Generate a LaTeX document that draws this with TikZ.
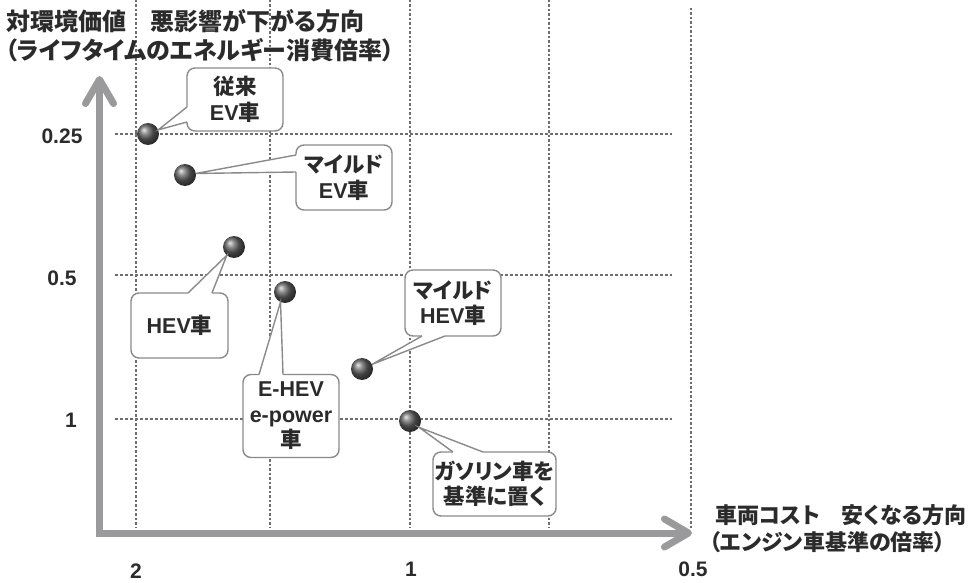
\documentclass[tikz,border=0pt]{standalone}
\usepackage{fontspec}
\setmainfont{Liberation Sans}
\newfontfamily\jp{Noto Sans CJK JP}[RawFeature=+palt]
\usetikzlibrary{calc,arrows.meta}
\definecolor{axisgray}{HTML}{9A9A9C}
\definecolor{gridgray}{HTML}{6E6E6E}
\definecolor{boxgray}{HTML}{8A8A8A}
\definecolor{txt}{HTML}{2B2B2B}
\newcommand\en[1]{{\fontspec{Liberation Sans}\bfseries #1}}
\begin{document}
\begin{tikzpicture}[x=1pt,y=-1pt,
  hgrid/.style={gridgray, line width=1.1pt, dash pattern=on 3pt off 2pt},
  vgrid/.style={gridgray, line width=1.1pt, dash pattern=on 2.5pt off 2pt},
  axisarrow/.style={axisgray, line width=7pt, -{Straight Barb[length=24pt,width=28pt,round]}},
  cbox/.style={draw=boxgray, line width=1.4pt, fill=white, rounded corners=8pt, inner sep=0pt, outer sep=0pt, align=center, text=txt, font=\fontsize{21.5}{25.5}\selectfont\jp\bfseries},
  ptr/.style={draw=boxgray, line width=1.4pt, line join=miter},
  ptrfill/.style={fill=white},
  ball/.style={circle, minimum size=22pt, inner sep=0pt, outer sep=0pt, shading=ball, ball color=black!62},
  tick/.style={text=txt, inner sep=0pt, font=\fontsize{21}{25}\selectfont\bfseries},
  title/.style={text=txt, inner sep=0pt, anchor=west, font=\fontsize{24}{26}\selectfont\jp\bfseries},
  xtitle/.style={text=txt, inner sep=0pt, anchor=west, font=\fontsize{22}{25}\selectfont\jp\bfseries},
]
\useasboundingbox (0,0) rectangle (969,583);
% grid
\foreach \gx/\gy in {136/0,270/0,410/0,549/0,691/8}
  \draw[vgrid] (\gx,\gy) -- (\gx,528);
\foreach \gy in {134,275,419}
  \draw[hgrid] (115,\gy) -- (672,\gy);
% axes
\coordinate (origin) at (99.5,533);
\coordinate (ytip) at (99.5,76);
\coordinate (xtip) at (692,533);
\draw[axisarrow] ($(origin)+(0,3.5)$) -- (ytip);
\draw[axisarrow] ($(origin)+(-3.5,0)$) -- (xtip);
% axis titles
\node[title] (yt1) at (6,21) {対環境価値　悪影響が下がる方向};
\node[title] (yt2) at (5,50) {（ライフタイムのエネルギー消費倍率）};
\node[xtitle] (xt1) at (715,515) {車両コスト　安くなる方向};
\node[xtitle] (xt2) at (709,542) {（エンジン車基準の倍率）};
% ticks
\node[tick] (t025) at (62,136) {0.25};
\node[tick] (t05) at (62,278) {0.5};
\node[tick] (t1) at (71,420) {1};
\node[tick] (x2) at (136,571) {2};
\node[tick] (x1) at (411,569) {1};
\node[tick] (x05) at (693,569) {0.5};
% balls
\node[ball] (d1) at (148,134) {};
\node[ball] (d2) at (185,175) {};
\node[ball] (d3) at (234,247) {};
\node[ball] (d4) at (285,292) {};
\node[ball] (d5) at (362,369) {};
\node[ball] (d6) at (410,421) {};
% callout boxes
\node[cbox, minimum width=96pt, minimum height=63pt] (b1) at (235,99.5) {従来\\\en{EV}車};
\node[cbox, minimum width=96pt, minimum height=65pt] (b2) at (344,177.5) {マイルド\\\en{EV}車};
\node[cbox, minimum width=97pt, minimum height=65pt] (b3) at (179.5,325.5) {\en{HEV}車};
\node[cbox, minimum width=96pt, minimum height=83pt] (b4) at (291,416) {\en{E-HEV}\\\en{e-power}\\車};
\node[cbox, minimum width=96pt, minimum height=66pt] (b5) at (453,303) {マイルド\\\en{HEV}車};
\node[cbox, minimum width=123pt, minimum height=64pt] (b6) at (494.5,484) {ガソリン車を\\基準に置く};
% pointers
\fill[ptrfill] ($(b1.west)+(0,7.5)$) -- (d1.22) -- ($(b1.west)+(0,22.5)$) -- ($(b1.west)+(2.5,22.5)$) -- ($(b1.west)+(2.5,7.5)$) -- cycle;
\draw[ptr] ($(b1.west)+(0,7.5)$) -- (d1.22) -- ($(b1.west)+(0,22.5)$);
\fill[ptrfill] ($(b2.west)+(0,-22.5)$) -- (d2.8) -- ($(b2.west)+(0,-5.5)$) -- ($(b2.west)+(2.5,-5.5)$) -- ($(b2.west)+(2.5,-22.5)$) -- cycle;
\draw[ptr] ($(b2.west)+(0,-22.5)$) -- (d2.8) -- ($(b2.west)+(0,-5.5)$);
\fill[ptrfill] ($(b3.north)+(8.5,0)$) -- (d3.229) -- ($(b3.north)+(32.5,0)$) -- ($(b3.north)+(32.5,2.5)$) -- ($(b3.north)+(8.5,2.5)$) -- cycle;
\draw[ptr] ($(b3.north)+(8.5,0)$) -- (d3.229) -- ($(b3.north)+(32.5,0)$);
\fill[ptrfill] ($(b4.north)+(-32,0)$) -- (d4.246) -- ($(b4.north)+(-8,0)$) -- ($(b4.north)+(-8,2.5)$) -- ($(b4.north)+(-32,2.5)$) -- cycle;
\draw[ptr] ($(b4.north)+(-32,0)$) -- (d4.246) -- ($(b4.north)+(-8,0)$);
\fill[ptrfill] ($(b5.south)+(-31,0)$) -- (d5.25) -- ($(b5.south)+(-8,0)$) -- ($(b5.south)+(-8,-2.5)$) -- ($(b5.south)+(-31,-2.5)$) -- cycle;
\draw[ptr] ($(b5.south)+(-31,0)$) -- (d5.25) -- ($(b5.south)+(-8,0)$);
\fill[ptrfill] ($(b6.north)+(-41.5,0)$) -- (d6.-35) -- ($(b6.north)+(-11.5,0)$) -- ($(b6.north)+(-11.5,2.5)$) -- ($(b6.north)+(-41.5,2.5)$) -- cycle;
\draw[ptr] ($(b6.north)+(-41.5,0)$) -- (d6.-35) -- ($(b6.north)+(-11.5,0)$);
\end{tikzpicture}
\end{document}
